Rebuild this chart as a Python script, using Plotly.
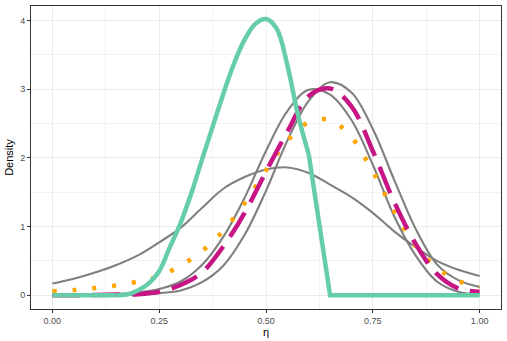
import plotly.graph_objects as go

# x grid shared by the smooth curves
x_grid = [0.00, 0.05, 0.10, 0.15, 0.20, 0.25, 0.30, 0.35, 0.40, 0.45, 0.50,
          0.55, 0.60, 0.65, 0.70, 0.75, 0.80, 0.85, 0.90, 0.95, 1.00]

gray_wide = [0.17, 0.24, 0.33, 0.44, 0.58, 0.77, 0.98, 1.27, 1.55, 1.72, 1.83,
             1.86, 1.78, 1.61, 1.43, 1.20, 0.93, 0.70, 0.50, 0.37, 0.28]
gray_a = [0.00, 0.00, 0.01, 0.02, 0.04, 0.09, 0.20, 0.44, 0.85, 1.42, 2.10,
          2.68, 2.99, 2.92, 2.55, 1.90, 1.15, 0.58, 0.20, 0.05, 0.01]
gray_b = [0.00, 0.00, 0.00, 0.005, 0.01, 0.03, 0.07, 0.19, 0.43, 0.88, 1.52,
          2.25, 2.83, 3.10, 2.95, 2.42, 1.68, 0.97, 0.45, 0.22, 0.12]
magenta = [0.00, 0.00, 0.005, 0.01, 0.015, 0.05, 0.15, 0.33, 0.71, 1.20, 1.80,
           2.38, 2.90, 3.01, 2.75, 2.10, 1.36, 0.75, 0.31, 0.10, 0.05]
orange = [0.06, 0.075, 0.105, 0.145, 0.20, 0.28, 0.43, 0.64, 0.94, 1.34, 1.82,
          2.25, 2.52, 2.55, 2.30, 1.80, 1.22, 0.72, 0.40, 0.21, 0.12]

# green: smooth body between 0.15 and 0.60, then a straight drop to zero
green_x = [0.00, 0.15, 0.175, 0.20, 0.225, 0.25, 0.275, 0.30, 0.325, 0.35, 0.375,
           0.40, 0.425, 0.45, 0.475, 0.50, 0.525, 0.55, 0.575, 0.60, 0.65, 1.00]
green_y = [0.00, 0.00, 0.01, 0.07, 0.17, 0.35, 0.70, 1.05, 1.48, 1.97, 2.45,
           2.93, 3.37, 3.72, 3.95, 4.02, 3.88, 3.35, 2.62, 2.05, 0.00, 0.00]
green_body = (1, 20)   # index range drawn as a smooth curve

x_ticks = [0.0, 0.25, 0.5, 0.75, 1.0]
x_ticktext = ["0.00", "0.25", "0.50", "0.75", "1.00"]
y_ticks = [0, 1, 2, 3, 4]

GREEN = "#66CDAA"
fig = go.Figure()
for ys in (gray_wide, gray_a, gray_b):
    fig.add_trace(go.Scatter(x=x_grid, y=ys, mode="lines",
                             line=dict(color="#7F7F7F", width=2.1, shape="spline"),
                             showlegend=False, hoverinfo="skip"))
fig.add_trace(go.Scatter(x=x_grid, y=orange, mode="lines",
                         line=dict(color="#FFA500", width=4.5, shape="spline", dash="4px,16px"),
                         showlegend=False))
fig.add_trace(go.Scatter(x=x_grid, y=magenta, mode="lines",
                         line=dict(color="#C71585", width=4.5, shape="spline", dash="28px,12px"),
                         showlegend=False))
a, b = green_body
fig.add_trace(go.Scatter(x=green_x[:a + 1], y=green_y[:a + 1], mode="lines",
                         line=dict(color=GREEN, width=4.5), showlegend=False))
fig.add_trace(go.Scatter(x=green_x[a:b], y=green_y[a:b], mode="lines",
                         line=dict(color=GREEN, width=4.5, shape="spline", smoothing=1.0),
                         showlegend=False))
fig.add_trace(go.Scatter(x=green_x[b - 1:], y=green_y[b - 1:], mode="lines",
                         line=dict(color=GREEN, width=4.5), showlegend=False))

axis_common = dict(
    showline=True, mirror=True, linecolor="#333333", linewidth=1,
    showgrid=True, gridcolor="#EBEBEB", gridwidth=1,
    zeroline=False, ticks="outside", ticklen=3, tickcolor="#333333", tickwidth=1,
    tickfont=dict(family="Liberation Sans", size=9, color="#4D4D4D"),
)

fig.update_layout(
    width=507, height=341,
    margin=dict(l=31, r=6, t=5, b=31),
    paper_bgcolor="white", plot_bgcolor="white",
    font=dict(family="Liberation Sans", color="#000000"),
    xaxis=dict(axis_common, range=[-0.05, 1.05], tickvals=x_ticks, ticktext=x_ticktext,
               minor=dict(tickvals=[0.125, 0.375, 0.625, 0.875], showgrid=True,
                          gridcolor="#F2F2F2", gridwidth=0.6, ticks=""),
               title=dict(text="η", font=dict(family="Liberation Sans", size=11, color="#000000"),
                          standoff=3)),
    yaxis=dict(axis_common, range=[-0.2, 4.21], tickvals=y_ticks,
               minor=dict(tickvals=[0.5, 1.5, 2.5, 3.5], showgrid=True,
                          gridcolor="#F2F2F2", gridwidth=0.6, ticks=""),
               title=dict(text="Density", font=dict(family="Liberation Sans", size=11, color="#000000"),
                          standoff=4)),
)

fig.write_html("out.html")
